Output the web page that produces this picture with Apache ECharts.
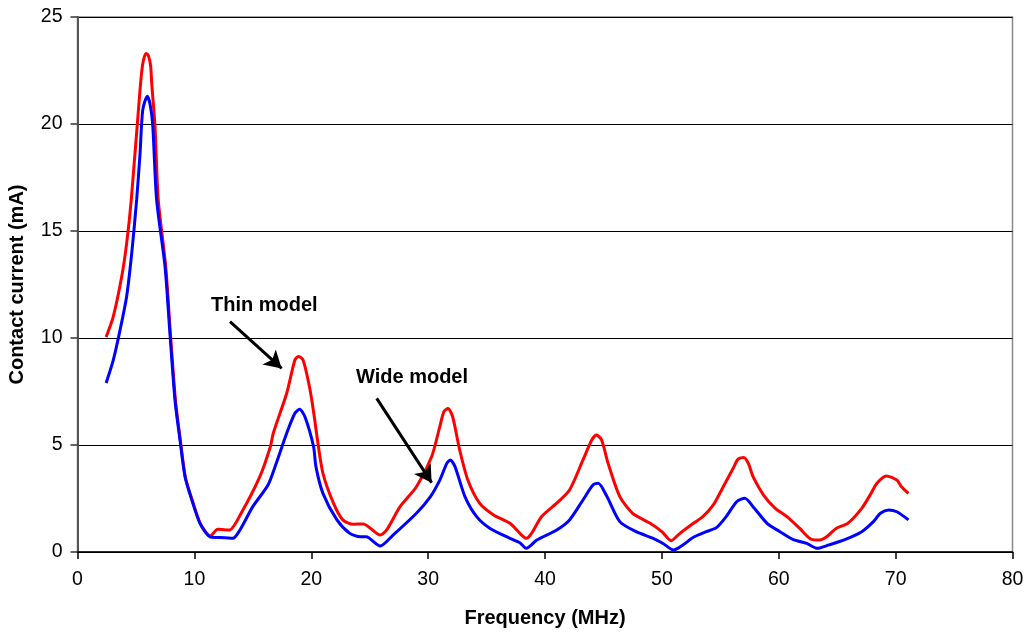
<!DOCTYPE html>
<html>
<head>
<meta charset="utf-8">
<script src="https://cdn.jsdelivr.net/npm/echarts@6/dist/echarts.min.js"></script>
<style>
html,body{margin:0;padding:0;background:#fff;}
#chart{width:1026px;height:632px;}
</style>
</head>
<body>
<div id="chart"></div>
<script>
// Thin model (red)
const thinFreq = [2.45,3.06,3.78,4.2,4.6,5.35,5.58,5.86,6.06,6.26,6.35,6.63,6.91,7.55,7.95,8.38,8.8,9.22,9.8,10.5,11.35,11.48,12.0,13.0,14.0,15.6,16.5,16.75,17.9,18.6,18.9,19.3,19.9,20.3,20.45,21.0,21.9,22.7,23.6,24.45,25.9,26.45,27.6,29.0,30.3,31.0,31.35,31.7,32.1,32.7,33.4,34.4,35.6,37.0,38.0,38.4,38.85,39.7,41.0,42.1,43.25,44.0,44.4,44.85,45.4,46.4,47.5,49.0,50.0,50.8,51.5,52.7,53.5,54.4,55.25,56.1,56.5,57.0,57.4,57.8,58.7,59.7,60.7,61.8,62.8,63.5,64.1,64.9,65.9,67.1,67.9,68.4,69.2,70.1,70.5,71.1];
const thinCurrent = [10.05,11.0,12.86,14.4,16.45,21.6,22.8,23.3,23.2,22.7,21.9,19.9,16.45,13.33,10.2,7.1,5.23,3.52,2.45,1.34,0.75,0.79,1.06,1.03,1.81,3.52,4.92,5.55,7.42,8.97,9.13,8.97,7.57,6.17,5.55,3.68,2.28,1.5,1.3,1.31,0.79,1.03,2.12,3.05,4.45,5.86,6.56,6.71,6.32,4.77,3.36,2.28,1.73,1.34,0.79,0.64,0.87,1.65,2.28,2.9,4.3,5.23,5.47,5.23,4.14,2.59,1.81,1.34,0.95,0.53,0.85,1.34,1.65,2.2,3.05,3.91,4.33,4.42,4.14,3.52,2.66,2.04,1.65,1.1,0.59,0.56,0.71,1.1,1.34,2.04,2.74,3.21,3.55,3.36,3.05,2.74];
// Wide model (blue)
const wideFreq = [2.45,3.06,3.64,4.2,4.64,5.06,5.35,5.58,5.97,6.2,6.43,6.77,7.49,7.91,8.34,8.77,9.2,9.77,10.48,11.33,12.0,13.3,13.9,15.0,16.3,17.0,17.9,18.6,19.0,19.46,20.2,20.4,21.0,22.2,23.3,24.2,24.7,25.9,27.0,29.0,30.2,31.0,31.6,31.9,32.3,33.15,34.15,35.3,37.0,37.85,38.4,39.3,41.0,42.1,43.25,44.1,44.55,45.3,46.4,47.8,49.25,50.1,51.0,51.8,52.7,53.8,54.7,55.5,56.4,57.1,57.8,59.0,60.1,61.2,62.4,63.3,64.3,65.7,67.1,68.1,68.7,69.4,70.1,71.1];
const wideCurrent = [7.9,8.97,10.37,11.93,13.96,16.45,18.6,20.65,21.3,20.95,20.0,16.45,13.33,10.2,7.1,5.23,3.52,2.45,1.34,0.71,0.68,0.64,1.03,2.12,3.13,4.14,5.55,6.48,6.67,6.32,4.92,3.99,2.74,1.5,0.87,0.71,0.71,0.28,0.79,1.81,2.59,3.36,4.14,4.3,3.99,2.59,1.65,1.1,0.64,0.43,0.17,0.56,1.03,1.5,2.43,3.13,3.21,2.59,1.42,0.95,0.64,0.4,0.09,0.33,0.69,0.95,1.15,1.65,2.35,2.51,2.12,1.34,0.95,0.59,0.4,0.17,0.33,0.59,0.95,1.42,1.81,1.96,1.88,1.5];

const xTicks = [0,10,20,30,40,50,60,70,80];
const yTicks = [0,5,10,15,20,25];
const annotations = [
  {text:'Thin model', from:[13.05,10.76], to:[17.47,8.58]},
  {text:'Wide model', from:[25.6,7.18], to:[30.3,3.24]}
];

const zip = (a,b) => a.map((v,i)=>[v,b[i]]);
const FONT = '"Liberation Sans", Arial, sans-serif';

const chart = echarts.init(document.getElementById('chart'), null, {renderer:'canvas'});
chart.setOption({
  animation:false,
  backgroundColor:'#fff',
  grid:{left:77.5, right:13.5, top:17, bottom:80, containLabel:false, outerBoundsMode:'none',
        show:true, borderColor:'#888', borderWidth:1.5, backgroundColor:'transparent'},
  xAxis:{
    type:'value', min:xTicks[0], max:xTicks[xTicks.length-1], interval:10,
    name:'Frequency (MHz)', nameLocation:'middle', nameGap:56,
    nameTextStyle:{fontFamily:FONT, fontWeight:'bold', fontSize:20, color:'#000'},
    axisLine:{show:true, lineStyle:{color:'#000', width:1.5}},
    axisTick:{show:true, inside:false, length:7, lineStyle:{color:'#000', width:1.5}},
    axisLabel:{fontFamily:FONT, fontSize:19.5, color:'#000', margin:18},
    splitLine:{show:false}
  },
  yAxis:{
    type:'value', min:yTicks[0], max:yTicks[yTicks.length-1], interval:5,
    name:'Contact current (mA)', nameLocation:'middle', nameGap:50, nameRotate:90,
    nameTextStyle:{fontFamily:FONT, fontWeight:'bold', fontSize:20, color:'#000'},
    axisLine:{show:true, lineStyle:{color:'#555', width:2}},
    axisTick:{show:true, inside:false, length:7, lineStyle:{color:'#333', width:1.5}},
    axisLabel:{fontFamily:FONT, fontSize:19.5, color:'#000', margin:15},
    splitLine:{show:true, lineStyle:{color:'#000', width:1}}
  },
  series:[
    {
      name:'Thin model', type:'line', data:zip(thinFreq, thinCurrent),
      showSymbol:false, symbol:'none', smooth:0.25,
      lineStyle:{color:'#ff0000', width:3}, z:3,
      markLine:{
        silent:true, animation:false,
        label:{show:false},
        symbol:['none','arrow'], symbolSize:[15,17],
        lineStyle:{color:'#000', width:3, type:'solid'},
        data: annotations.map(a => [{coord:a.from}, {coord:a.to}])
      }
    },
    {
      name:'Wide model', type:'line', data:zip(wideFreq, wideCurrent),
      showSymbol:false, symbol:'none', smooth:0.25,
      lineStyle:{color:'#0000ff', width:3}, z:4
    }
  ],
  graphic:[
    {type:'text', left:211, top:295, style:{text:annotations[0].text, font:'bold 20px '+FONT, fill:'#000'}},
    {type:'text', left:356, top:367, style:{text:annotations[1].text, font:'bold 20px '+FONT, fill:'#000'}}
  ]
});
</script>
</body>
</html>
